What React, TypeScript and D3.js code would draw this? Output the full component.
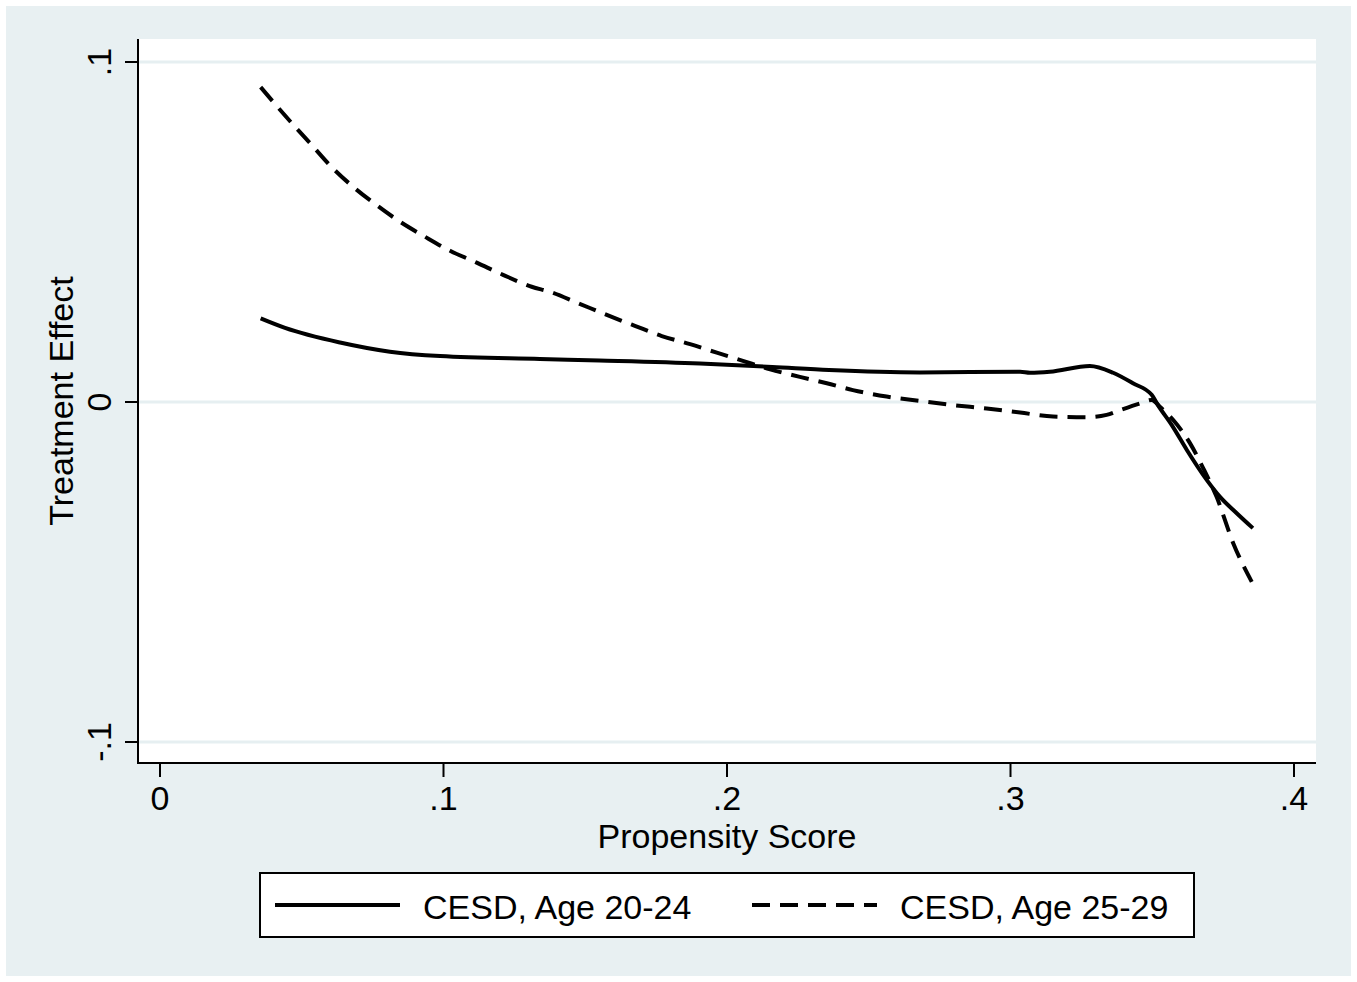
import React from "react";
import * as d3 from "d3";

// ---- data ----
const xTicks = [0, 0.1, 0.2, 0.3, 0.4];
const xTickLabels = ["0", ".1", ".2", ".3", ".4"];
const yTicks = [-0.1, 0, 0.1];
const yTickLabels = ["-.1", "0", ".1"];

const seriesNames = ["CESD, Age 20-24", "CESD, Age 25-29"];

const age2024X = [
  0.0355, 0.0441, 0.0635, 0.0811, 0.0988, 0.134, 0.155, 0.1905, 0.216, 0.236,
  0.268, 0.3034, 0.3069, 0.3139, 0.328, 0.3362, 0.3432, 0.3498, 0.352,
  0.3569, 0.3622, 0.3692, 0.3739, 0.3798, 0.3855,
];
const age2024Y = [
  0.0246, 0.0218, 0.0175, 0.0148, 0.0135, 0.01265, 0.0122, 0.0113, 0.0103,
  0.0094, 0.0087, 0.0089, 0.0086, 0.0089, 0.0106, 0.0086, 0.0055, 0.0021,
  -0.0009, -0.0068, -0.0141, -0.0229, -0.0279, -0.0327, -0.0371,
];

const age2529X = [
  0.0355, 0.0399, 0.0465, 0.0535, 0.0602, 0.0681, 0.0764, 0.0847, 0.0935,
  0.1023, 0.1117, 0.121, 0.1311, 0.1376, 0.1474, 0.1576, 0.1675, 0.177,
  0.187, 0.1964, 0.2056, 0.2152, 0.2257, 0.2352, 0.2444, 0.2563, 0.2681,
  0.2797, 0.2916, 0.3034, 0.315, 0.3269, 0.3339, 0.3386, 0.3457, 0.3498,
  0.3527, 0.3574, 0.3633, 0.368, 0.3727, 0.3786, 0.3851,
];
const age2529Y = [
  0.0926, 0.0883, 0.082, 0.0756, 0.0694, 0.0633, 0.0579, 0.053, 0.0486,
  0.0445, 0.041, 0.0374, 0.0339, 0.0324, 0.0291, 0.0256, 0.0224, 0.0194,
  0.017, 0.0145, 0.0121, 0.0096, 0.0074, 0.0055, 0.0035, 0.0016, 0.0003,
  -0.0009, -0.0019, -0.0031, -0.0043, -0.0045, -0.0038, -0.0024, -0.0004,
  0.0006, -0.0014, -0.0053, -0.0121, -0.0195, -0.0279, -0.0416, -0.0529,
];

const xTitle = "Propensity Score";
const yTitle = "Treatment Effect";

// ---- layout ----
const W = 1357;
const H = 982;
const BG = "#E8F0F2";
const GRID = "#E6EFF1";
const FONT = "'Liberation Sans', Arial, Helvetica, sans-serif";
const FS = 34;

const plotLeft = 138;
const plotRight = 1316;
const plotTop = 39;
const plotBottom = 763;

const x = d3.scaleLinear().domain([0, 0.4]).range([160, 1294]);
const y = d3.scaleLinear().domain([-0.1, 0.1]).range([742, 62]);

type P = [number, number];
const zip = (xs: number[], ys: number[]): P[] => xs.map((v, i) => [v, ys[i]]);

const line = d3
  .line<P>()
  .x((d) => x(d[0]))
  .y((d) => y(d[1]))
  .curve(d3.curveMonotoneX);

const DASH = "18 10";

export default function App() {
  const s1 = line(zip(age2024X, age2024Y)) || "";
  const s2 = line(zip(age2529X, age2529Y)) || "";
  return (
    <div style={{ position: "absolute", left: 0, top: 0 }}>
      <svg width={W} height={H} style={{ display: "block" }}>
        <rect x={0} y={0} width={W} height={H} fill="#ffffff" />
        <rect x={6} y={6} width={W - 12} height={H - 12} fill={BG} />
        <rect
          x={plotLeft}
          y={plotTop}
          width={plotRight - plotLeft}
          height={plotBottom - plotTop}
          fill="#ffffff"
        />
        {/* gridlines */}
        {yTicks.map((t) => (
          <line
            key={"g" + t}
            x1={plotLeft}
            x2={plotRight}
            y1={y(t)}
            y2={y(t)}
            stroke={GRID}
            strokeWidth={3}
          />
        ))}
        {/* series */}
        <path d={s1} fill="none" stroke="#000" strokeWidth={4} strokeLinejoin="round" />
        <path
          d={s2}
          fill="none"
          stroke="#000"
          strokeWidth={4}
          strokeDasharray={DASH}
        />
        {/* axes */}
        <line x1={plotLeft} x2={plotLeft} y1={plotTop} y2={plotBottom + 1} stroke="#000" strokeWidth={2} />
        <line x1={plotLeft - 1} x2={plotRight} y1={plotBottom} y2={plotBottom} stroke="#000" strokeWidth={2} />
        {yTicks.map((t, i) => (
          <g key={"yt" + t}>
            <line x1={plotLeft - 13} x2={plotLeft} y1={y(t)} y2={y(t)} stroke="#000" strokeWidth={2} />
            <text
              transform={`translate(111,${y(t)}) rotate(-90)`}
              textAnchor="middle"
              fontFamily={FONT}
              fontSize={FS}
              fill="#000"
            >
              {yTickLabels[i]}
            </text>
          </g>
        ))}
        {xTicks.map((t, i) => (
          <g key={"xt" + t}>
            <line x1={x(t)} x2={x(t)} y1={plotBottom} y2={plotBottom + 14} stroke="#000" strokeWidth={2} />
            <text
              x={x(t)}
              y={810}
              textAnchor="middle"
              fontFamily={FONT}
              fontSize={FS}
              fill="#000"
            >
              {xTickLabels[i]}
            </text>
          </g>
        ))}
        <text
          x={(plotLeft + plotRight) / 2}
          y={848}
          textAnchor="middle"
          fontFamily={FONT}
          fontSize={FS}
          fill="#000"
        >
          {xTitle}
        </text>
        <text
          transform={`translate(73,${(plotTop + plotBottom) / 2}) rotate(-90)`}
          textAnchor="middle"
          fontFamily={FONT}
          fontSize={FS}
          fill="#000"
        >
          {yTitle}
        </text>
        {/* legend */}
        <rect x={260} y={873} width={934} height={64} fill="#ffffff" stroke="#000" strokeWidth={2} />
        <line x1={275} x2={400} y1={905} y2={905} stroke="#000" strokeWidth={4} />
        <text x={423} y={919} fontFamily={FONT} fontSize={FS} fill="#000">
          {seriesNames[0]}
        </text>
        <line x1={752} x2={877} y1={905} y2={905} stroke="#000" strokeWidth={4} strokeDasharray={DASH} />
        <text x={900} y={919} fontFamily={FONT} fontSize={FS} fill="#000">
          {seriesNames[1]}
        </text>
      </svg>
    </div>
  );
}
